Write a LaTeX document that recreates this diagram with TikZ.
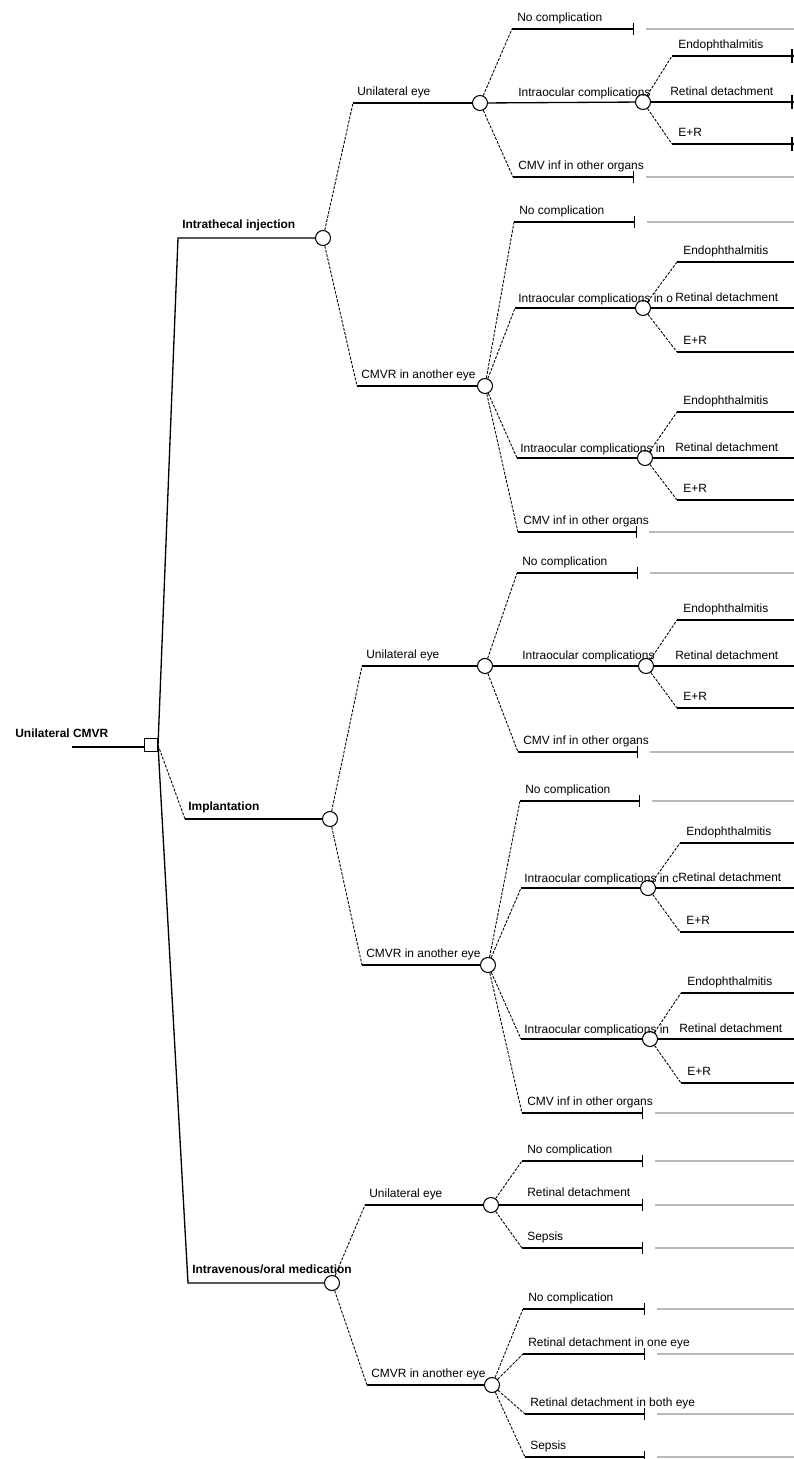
\documentclass[tikz,border=0pt]{standalone}
\usepackage{fontspec}
\setmainfont{Liberation Sans}
\usetikzlibrary{arrows.meta}

\tikzset{
  chance/.style={circle,draw,line width=0.6pt,minimum size=3mm,inner sep=0pt},
  decision/.style={rectangle,draw,line width=0.6pt,minimum size=2.6mm,inner sep=0pt},
  arm/.style={line width=0.75pt},
  branch/.style={line width=0.5pt,dash pattern=on 1.6pt off 0.8pt},
  endbar/.style={-{Bar[width=2.4mm,line width=0.75pt]}},
  tail/.style={gray!55,line width=0.6pt},
  lbl/.style={anchor=base west,inner sep=0pt,font=\fontsize{6.8}{8}\selectfont},
  lblb/.style={lbl,font=\fontsize{6.8}{8}\selectfont\bfseries}
}

\begin{document}
\begin{tikzpicture}[x=0.2mm,y=-0.2mm]
  \useasboundingbox (0,0) rectangle (794,1459);
  \coordinate (rim) at (794,0);

  % root decision
  \node[decision] (root) at (151,745) {};
  \coordinate (r0) at (72,747);
  \draw[arm] (r0) -- (r0 -| root.west);
  \node[lblb] (lroot) at (15,737) {Unilateral CMVR};

  % treatments
  \node[chance] (cA) at (323,238) {};
  \node[chance] (cB) at (330,819) {};
  \node[chance] (cC) at (332,1283) {};
  \coordinate (kA) at (178,238);
  \coordinate (kB) at (185,819);
  \coordinate (kC) at (188,1283);
  \draw[arm] (root.east) -- (kA) -- (cA);
  \draw[branch] (root.east) -- (kB);
  \draw[arm] (kB) -- (cB);
  \draw[arm] (root.east) -- (kC) -- (cC);
  \node[lblb] (lA) at (182,228) {Intrathecal injection};
  \node[lblb] (lB) at (188,810) {Implantation};
  \node[lblb] (lC) at (192,1273) {Intravenous/oral medication};

  % one eye or both
  \node[chance] (cA1) at (480,103) {};
  \node[chance] (cA2) at (485,386) {};
  \node[chance] (cB1) at (485,666) {};
  \node[chance] (cB2) at (488,965) {};
  \node[chance] (cC1) at (491,1205) {};
  \node[chance] (cC2) at (492,1385) {};
  \foreach \p/\c/\x/\y/\t in {cA/cA1/353/103/Unilateral eye,
      cA/cA2/357/386/CMVR in another eye, cB/cB1/362/666/Unilateral eye,
      cB/cB2/362/965/CMVR in another eye, cC/cC1/365/1205/Unilateral eye,
      cC/cC2/367/1385/CMVR in another eye}
  {
    \coordinate (k\c) at (\x,\y);
    \draw[branch] (\p) -- (k\c);
    \draw[arm] (k\c) -- (\c);
    \node[lbl] (l\c) at (\x+4,\y-8) {\t};
  }

  % intraocular complications
  \node[chance] (cA1x) at (643,102) {};
  \node[chance] (cA2x) at (643,308) {};
  \node[chance] (cA2y) at (645,458) {};
  \node[chance] (cB1x) at (646,666) {};
  \node[chance] (cB2x) at (648,888) {};
  \node[chance] (cB2y) at (650,1039) {};
  \draw[arm] (cA1) -- (cA1x);
  \draw[arm] (cB1) -- (cB1x);
  \node[lbl] (lA1x) at (518,96) {Intraocular complications};
  \node[lbl] (lB1x) at (522,659) {Intraocular complications};
  \foreach \p/\c/\x/\t in {cA2/cA2x/515/Intraocular complications in o,
      cA2/cA2y/517/Intraocular complications in,
      cB2/cB2x/521/Intraocular complications in c,
      cB2/cB2y/521/Intraocular complications in}
  {
    \coordinate (k\c) at (\x,0 |- \c);
    \draw[branch] (\p) -- (k\c);
    \draw[arm] (k\c) -- (\c);
    \node[lbl] (l\c) at ([shift={(3,-6)}]k\c) {\t};
  }

  % outcomes ending the branch
  \foreach \p/\x/\y/\e/\t [count=\i] in {cA1/512/29/634/No complication,
      cA1/513/177/634/CMV inf in other organs,
      cA2/514/222/635/No complication,
      cA2/518/532/637/CMV inf in other organs,
      cB1/517/573/638/No complication,
      cB1/518/752/638/CMV inf in other organs,
      cB2/520/801/640/No complication,
      cB2/522/1113/643/CMV inf in other organs,
      cC1/522/1161/643/No complication,
      cC1/522/1248/643/Sepsis,
      cC2/523/1309/645/No complication,
      cC2/523/1354/645/Retinal detachment in one eye,
      cC2/525/1414/645/Retinal detachment in both eye,
      cC2/525/1457/645/Sepsis}
  {
    \coordinate (k\i) at (\x,\y);
    \coordinate (t\i) at (\e,\y);
    \coordinate (s\i) at (\e+12,\y);
    \draw[branch] (\p) -- (k\i);
    \draw[arm,endbar] (k\i) -- (t\i);
    \draw[tail] (s\i) -- (rim |- s\i);
    \node[lbl] (lt\i) at (\x+5,\y-8) {\t};
  }
  \coordinate (tC1r) at (643,1205);
  \coordinate (sC1r) at (655,1205);
  \draw[arm,endbar] (cC1) -- (tC1r);
  \draw[tail] (sC1r) -- (rim |- sC1r);
  \node[lbl] (lC1r) at (527,1196) {Retinal detachment};

  % endophthalmitis / retinal detachment / both
  \foreach \p/\x/\ya/\yc in {cA1x/672/56/144, cA2x/677/262/352,
      cA2y/677/412/500, cB1x/677/620/708, cB2x/680/843/932, cB2y/681/993/1083}
  {
    \coordinate (u\p) at (\x,\ya);
    \coordinate (d\p) at (\x,\yc);
    \draw[branch] (\p) -- (u\p);
    \draw[branch] (\p) -- (d\p);
    \draw[arm] (u\p) -- (rim |- u\p);
    \draw[arm] (\p) -- (rim |- \p);
    \draw[arm] (d\p) -- (rim |- d\p);
    \node[lbl] (lu\p) at (\x+6,\ya-8) {Endophthalmitis};
    \path (\x,0 |- \p) ++(-2,-7) node[lbl] (lm\p) {Retinal detachment};
    \node[lbl] (ld\p) at (\x+6,\yc-8) {E+R};
  }
  \foreach \y in {56,102,144}
    \draw[arm] (792,\y-7) -- (792,\y+7);
\end{tikzpicture}
\end{document}
